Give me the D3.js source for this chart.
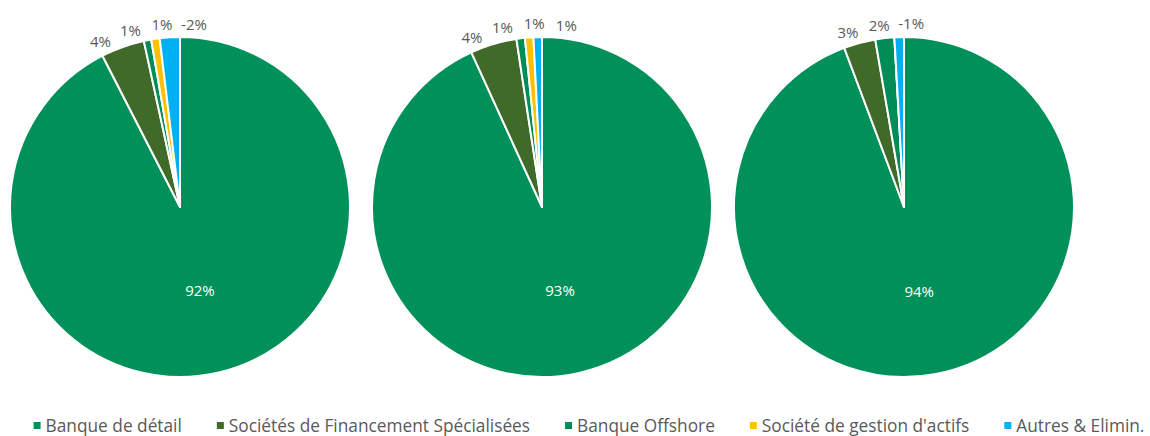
<!DOCTYPE html>
<html>
<head>
<meta charset="utf-8">
<script src="https://cdn.jsdelivr.net/npm/d3@7"></script>
<style>
  html, body { margin: 0; padding: 0; background: #fff; }
  svg { display: block; font-family: "Open Sans", "Noto Sans", sans-serif; }
</style>
</head>
<body>
<svg id="chart" width="1150" height="436"></svg>
<script>
// Segments, in drawing order (clockwise from 12 o'clock)
const segments = [
  "Banque de détail",
  "Sociétés de Financement Spécialisées",
  "Banque Offshore",
  "Société de gestion d'actifs",
  "Autres & Elimin."
];
const segmentColors = ["#00915A", "#3F6A27", "#008C57", "#FFC000", "#00B0F0"];

// Share of each segment (%), one array per pie
const pieIds = ["p1", "p2", "p3"];
const sharesP1 = [92.0, 4.1, 0.7, 0.8, -1.9];
const sharesP2 = [92.9, 4.4, 0.8, 0.8, 0.8];
const sharesP3 = [94.0, 3.0, 1.8, 0.0, -0.9];
const shares = [sharesP1, sharesP2, sharesP3];

const svg = d3.select("#chart");
const radius = 170;
const cy = 207;
const labelRadius = 184;
const minSep = 10 * Math.PI / 180;

const x = d3.scalePoint().domain(pieIds).range([180, 904]);

const pie = d3.pie().sort(null).value(d => Math.abs(d.v));
const arc = d3.arc().innerRadius(0).outerRadius(radius);
const fmt = v => Math.round(v) + "%";

pieIds.forEach((id, pi) => {
  const data = segments.map((s, i) => ({ name: s, v: shares[pi][i], i }));
  const arcs = pie(data);
  const g = svg.append("g").attr("transform", `translate(${x(id)},${cy})`);

  g.selectAll("path")
    .data(arcs)
    .join("path")
    .attr("d", arc)
    .attr("fill", d => segmentColors[d.data.i])
    .attr("stroke", "#fff")
    .attr("stroke-width", 2)
    .attr("stroke-linejoin", "round");

  // Largest slice: label inside
  const big = arcs[0];
  const [bx, by] = arc.centroid(big);
  g.append("text")
    .attr("x", bx)
    .attr("y", by)
    .attr("text-anchor", "middle")
    .attr("dominant-baseline", "central")
    .attr("fill", "#fff")
    .attr("font-size", 15)
    .text(fmt(big.data.v));

  // Small slices: labels outside, spread apart so they don't collide
  const small = arcs.slice(1).filter(d => d.data.v !== 0).map(d => {
    let a = (d.startAngle + d.endAngle) / 2;
    if (a > Math.PI) a -= 2 * Math.PI;
    return { d, a };
  });
  small.sort((p, q) => p.a - q.a);
  for (let it = 0; it < 300; it++) {
    for (let k = 0; k < small.length - 1; k++) {
      const gap = small[k + 1].a - small[k].a;
      if (gap < minSep) {
        const push = (minSep - gap) / 2;
        small[k].a -= push;
        small[k + 1].a += push;
      }
    }
  }
  g.selectAll("text.out")
    .data(small)
    .join("text")
    .attr("class", "out")
    .attr("x", p => labelRadius * Math.sin(p.a))
    .attr("y", p => -labelRadius * Math.cos(p.a))
    .attr("text-anchor", "middle")
    .attr("dominant-baseline", "central")
    .attr("fill", "#595959")
    .attr("font-size", 15)
    .text(p => fmt(p.d.data.v));
});

// Legend along the bottom
const legend = svg.append("g").attr("transform", "translate(0,425)");
const items = legend.selectAll("g")
  .data(segments)
  .join("g");
items.append("rect")
  .attr("x", 0).attr("y", -3)
  .attr("width", 7).attr("height", 7)
  .attr("fill", (d, i) => segmentColors[i]);
items.append("text")
  .attr("x", 12)
  .attr("y", 0)
  .attr("dominant-baseline", "central")
  .attr("fill", "#595959")
  .attr("font-size", 17.3)
  .text(d => d);

const itemGap = 35;
let cursor = 0;
const offsets = [];
items.each(function () {
  offsets.push(cursor);
  const w = d3.select(this).select("text").node().getComputedTextLength();
  cursor += 12 + w + itemGap;
});
const total = cursor - itemGap;
const start = 589 - total / 2;
items.attr("transform", (d, i) => `translate(${start + offsets[i]},0)`);
</script>
</body>
</html>
